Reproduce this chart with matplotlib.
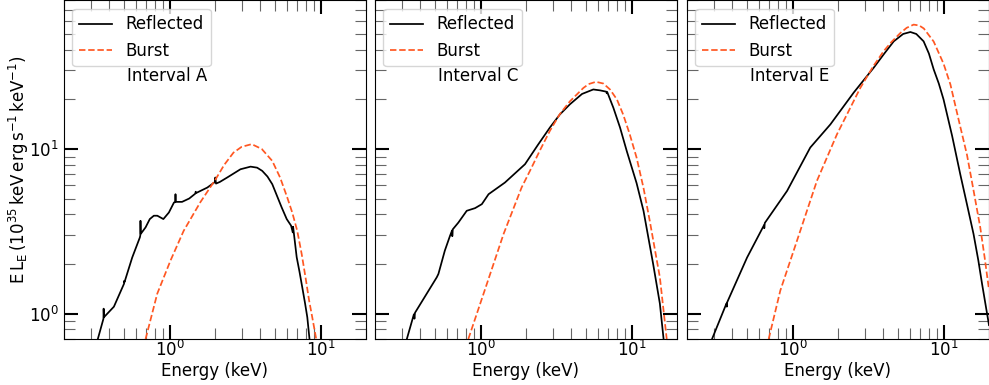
import matplotlib
matplotlib.use("Agg")
import matplotlib.pyplot as plt
from matplotlib.ticker import LogLocator, NullFormatter

# Interval A
ea_ref = [0.335, 0.365, 0.366, 0.368, 0.428, 0.500, 0.501, 0.503, 0.566, 0.636, 0.640, 0.642, 0.645,
          0.694, 0.740, 0.787, 0.830, 0.910, 0.990, 1.07, 1.09, 1.095, 1.10, 1.21, 1.35, 1.48, 1.49, 1.50,
          1.78, 2.00, 2.01, 2.03, 2.15, 2.41, 2.95, 3.44, 3.80, 4.11, 4.45, 4.79, 5.10, 5.53, 5.97, 6.38,
          6.55, 6.58, 6.95, 7.25, 7.57, 7.90, 8.17, 8.45]
la_ref = [0.70, 0.93, 1.07, 0.95, 1.10, 1.52, 1.58, 1.55, 2.19, 2.90, 2.98, 3.66, 3.05,
          3.34, 3.75, 3.93, 3.93, 3.75, 4.11, 4.73, 4.75, 5.31, 4.77, 4.77, 5.00, 5.35, 5.50, 5.40,
          5.83, 6.30, 6.71, 6.16, 6.30, 6.71, 7.53, 7.81, 7.70, 7.36, 6.80, 6.11, 5.30, 4.41, 3.75, 3.42,
          3.11, 3.37, 2.20, 1.80, 1.44, 1.15, 0.95, 0.70]
ea_bb = [0.694, 0.829, 1.015, 1.24, 1.60, 2.02, 2.30, 2.65, 3.00, 3.50, 4.08, 4.79, 5.40, 6.02, 6.50,
         7.01, 7.50, 7.95, 8.40, 8.81, 9.36]
la_bb = [0.70, 1.32, 2.10, 3.18, 4.75, 6.55, 8.00, 9.50, 10.3, 10.7, 10.0, 8.46, 6.70, 5.07, 4.10,
         3.18, 2.30, 1.66, 1.20, 0.95, 0.70]

# Interval C
ec_ref = [0.325, 0.362, 0.365, 0.368, 0.513, 0.526, 0.580, 0.628, 0.648, 0.650, 0.655, 0.713, 0.810,
          0.920, 1.02, 1.13, 1.45, 1.97, 2.40, 2.88, 3.35, 3.91, 4.70, 5.58, 6.20, 6.80, 6.85, 6.90,
          7.58, 8.39, 9.30, 10.8, 12.0, 13.9, 15.4, 16.3]
lc_ref = [0.70, 0.99, 0.93, 1.01, 1.66, 1.74, 2.41, 2.97, 3.20, 2.95, 3.25, 3.57, 4.21,
          4.37, 4.62, 5.31, 6.25, 8.08, 10.6, 13.5, 16.2, 18.7, 21.6, 23.0, 22.7, 22.3, 21.8, 22.2,
          17.8, 13.5, 9.70, 6.20, 4.21, 2.00, 1.15, 0.70]
ec_bb = [0.83, 1.10, 1.42, 1.87, 2.13, 2.50, 2.88, 3.35, 3.91, 4.80, 5.20, 5.81, 6.50, 7.20, 8.00,
         8.80, 9.70, 10.8, 12.0, 13.2, 15.4, 17.1]
lc_bb = [0.70, 1.51, 3.04, 5.83, 7.40, 10.0, 12.9, 16.3, 19.5, 23.5, 24.8, 25.6, 25.0, 23.0, 20.0,
         16.2, 12.4, 8.86, 5.80, 3.66, 1.66, 0.70]

# Interval E
ee_ref = [0.293, 0.365, 0.367, 0.369, 0.500, 0.648, 0.650, 0.655, 0.920, 1.31, 1.78, 2.54, 3.44,
          4.05, 4.68, 5.40, 6.03, 6.60, 7.38, 8.00, 8.60, 9.30, 10.0, 11.4, 12.9, 14.3, 15.8, 17.0,
          18.0, 20.0]
le_ref = [0.70, 1.15, 1.10, 1.17, 2.19, 3.45, 3.30, 3.55, 5.56, 10.2, 14.1, 22.0, 31.1,
          38.0, 45.1, 50.0, 51.4, 50.0, 45.1, 38.0, 30.5, 25.0, 20.0, 12.0, 7.03, 4.60, 3.04, 2.10,
          1.51, 0.85]
ee_bb = [0.695, 0.83, 1.07, 1.45, 1.97, 2.81, 3.40, 4.01, 4.50, 5.18, 5.70, 6.34, 6.90, 7.40, 8.60,
         10.0, 11.1, 12.6, 14.3, 15.8, 17.5, 18.7, 19.9]
le_bb = [0.70, 1.38, 2.77, 6.40, 12.3, 23.5, 31.5, 39.3, 44.5, 50.7, 54.5, 57.0, 56.3, 54.0, 45.0,
         33.0, 24.7, 15.0, 9.20, 5.60, 3.34, 2.20, 1.44]

intervals = ["Interval A", "Interval C", "Interval E"]
panels = [(ea_ref, la_ref, ea_bb, la_bb), (ec_ref, lc_ref, ec_bb, lc_bb), (ee_ref, le_ref, ee_bb, le_bb)]

plt.rcParams["font.size"] = 12

fig = plt.figure(figsize=(9.89, 3.85), dpi=100)
lefts = [64 / 989, 375 / 989, 687 / 989]
w = 302 / 989
axes = []
for i, left in enumerate(lefts):
    ax = fig.add_axes([left, 46 / 385, w, 339 / 385 - 0.001], sharey=axes[0] if axes else None)
    axes.append(ax)

for ax, (e_r, l_r, e_b, l_b), name in zip(axes, panels, intervals):
    ax.plot(e_r, l_r, color="k", lw=1.25, label="Reflected")
    ax.plot(e_b, l_b, color="#ff5722", lw=1.25, ls="--", label="Burst")
    ax.set_xscale("log")
    ax.set_yscale("log")
    ax.set_xlim(0.2, 20)
    ax.set_ylim(0.7, 80)
    ax.set_xlabel("Energy (keV)", labelpad=1)
    ax.tick_params(which="both", direction="in", top=True, right=True)
    ax.tick_params(which="major", length=10, width=1.5)
    ax.tick_params(which="minor", length=8, width=0.8, color="0.4")
    ax.tick_params(axis="x", which="major", pad=1)
    ax.xaxis.set_minor_locator(LogLocator(base=10, subs=range(2, 10)))
    ax.xaxis.set_minor_formatter(NullFormatter())
    ax.yaxis.set_minor_formatter(NullFormatter())
    ax.legend(loc="upper left", fontsize=12)
    ax.text(0.21, 0.776, name, transform=ax.transAxes, va="center", ha="left", fontsize=12)

for ax in axes[1:]:
    plt.setp(ax.get_yticklabels(), visible=False)

axes[0].set_ylabel(r"$\mathregular{E\,L_E\,(10^{35}\,keV\,erg\,s^{-1}\,keV^{-1})}$", labelpad=-1.5)

fig.savefig("out.png", dpi=100)
